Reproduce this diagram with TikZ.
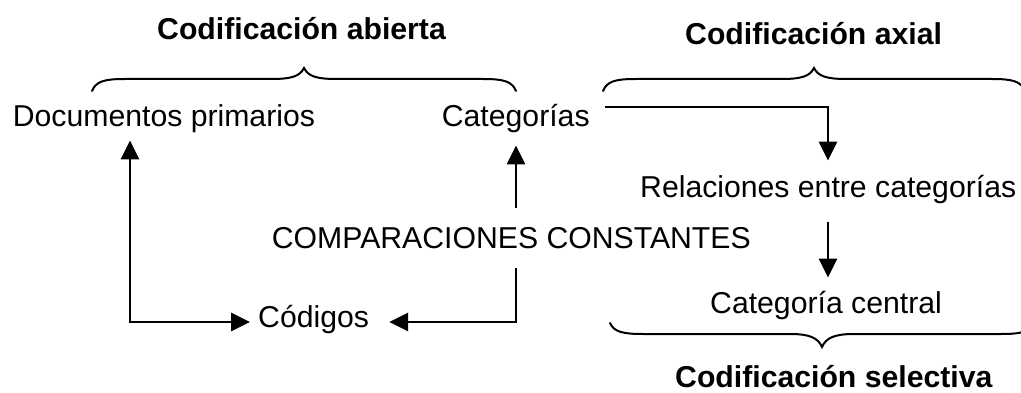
\documentclass[tikz,border=0pt]{standalone}
\usepackage{fontspec}
\setmainfont{Liberation Sans}
\usetikzlibrary{arrows.meta}
\begin{document}
\begin{tikzpicture}[x=1pt,y=-1pt,
  lbl/.style={inner sep=0pt, anchor=base west, font=\fontsize{30.2}{36}\selectfont},
  ttl/.style={inner sep=0pt, anchor=base west, font=\fontsize{30.2}{36}\selectfont\bfseries},
  arr/.style={line width=2.8pt, -{Triangle[length=19pt,width=18pt]}},
  biarr/.style={line width=2.8pt, {Triangle[length=19pt,width=18pt]}-{Triangle[length=19pt,width=18pt]}},
  bracestyle/.style={line width=2pt, line cap=round}]
\useasboundingbox (0,0) rectangle (1021,393);
\clip (0,0) rectangle (1021,393);

% texts
\node[ttl] (ab) at (157,40) {Codificación abierta};
\node[ttl] (ax) at (685,45) {Codificación axial};
\node[ttl] (se) at (675,387) {Codificación selectiva};
\node[lbl] (doc) at (12.7,127) {Documentos primarios};
\node[lbl] (cat) at (441.7,127) {Categorías};
\node[lbl] (rel) at (640,197) {Relaciones entre categorías};
\node[lbl] (cmp) at (271.7,248) {COMPARACIONES CONSTANTES};
\node[lbl] (cod) at (258,327) {Códigos};
\node[lbl] (cen) at (710,313) {Categoría central};

% braces
\draw[bracestyle] (92,91) .. controls (96,81) and (105,79) .. (125,79) -- (272,79)
  .. controls (292,79) and (300,76) .. (304,68)
  .. controls (308,76) and (316,79) .. (336,79) -- (483,79)
  .. controls (503,79) and (512,81) .. (516,91);
\draw[bracestyle] (603,91) .. controls (607,81) and (616,79) .. (636,79) -- (782,79)
  .. controls (802,79) and (810,76) .. (814,68)
  .. controls (818,76) and (826,79) .. (846,79) -- (992,79)
  .. controls (1012,79) and (1021,81) .. (1025,91);
\draw[bracestyle] (610,323) .. controls (614,332) and (623,334) .. (643,334) -- (790,334)
  .. controls (810,334) and (818,338) .. (822,347)
  .. controls (826,338) and (834,334) .. (854,334) -- (1001,334)
  .. controls (1021,334) and (1030,332) .. (1034,323);

% connectors
\coordinate (c1) at (130,322);
\coordinate (c2) at (516,322);
\coordinate (c3) at (828,107);
\draw[biarr, shorten <=7pt, shorten >=8pt] (doc.south -| c1) -- (c1) -- (cod.west |- c1);
\draw[arr, shorten <=19pt, shorten >=12pt] (cmp.north -| c2) -- (cat.south -| c2);
\draw[arr, shorten <=20pt, shorten >=20pt] (cmp.south -| c2) -- (c2) -- (cod.east |- c2);
\draw[arr, shorten <=15pt, shorten >=14pt] (cat.east |- c3) -- (c3) -- (rel.north -| c3);
\draw[arr, shorten <=19pt, shorten >=13pt] (rel.south -| c3) -- (cen.north -| c3);
\end{tikzpicture}
\end{document}
